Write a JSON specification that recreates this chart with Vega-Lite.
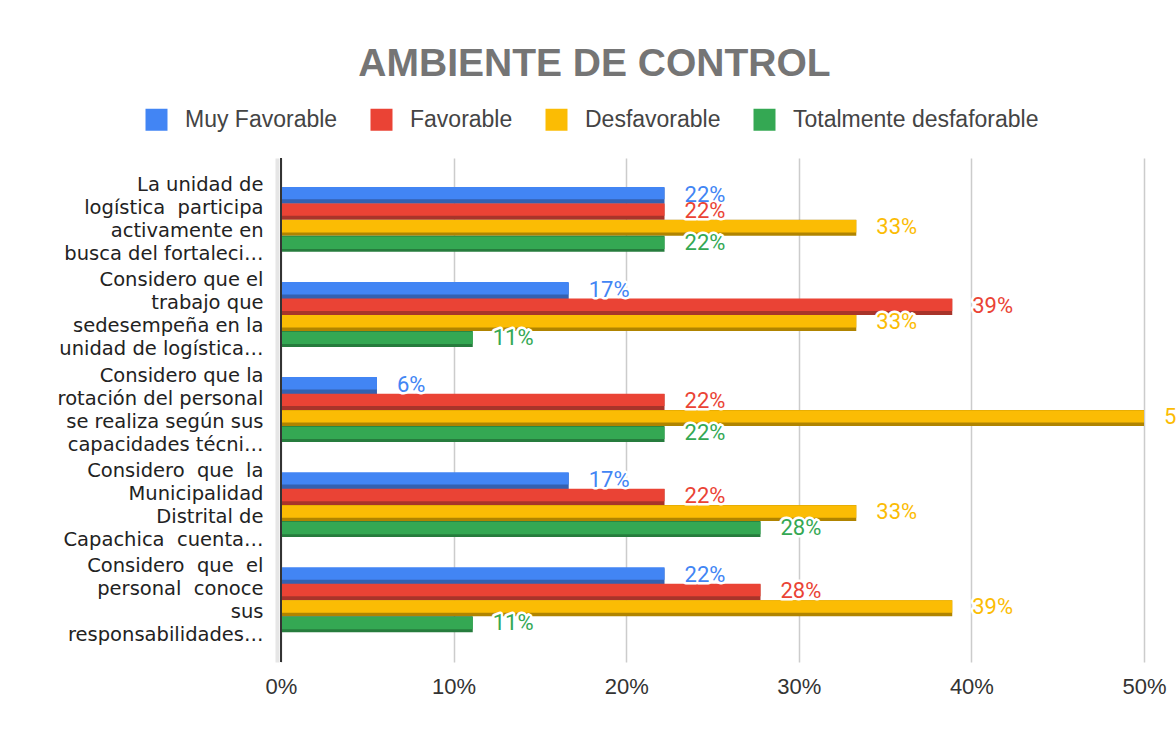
{
  "$schema": "https://vega.github.io/schema/vega-lite/v6.json",
  "width": 863,
  "height": 504,
  "autosize": "none",
  "padding": {"left": 281, "top": 158, "right": 32, "bottom": 69},
  "background": "white",
  "config": {"view": {"stroke": null}},
  "title": {
    "text": "AMBIENTE DE CONTROL",
    "font": "Liberation Sans",
    "fontSize": 39,
    "fontWeight": "bold",
    "color": "#757575",
    "anchor": "middle",
    "frame": "group",
    "dx": -118,
    "offset": 24
  },
  "data": {
    "values": [
      {"q": "La unidad de|logística\u00a0\u00a0participa|activamente en|busca del fortaleci…", "serie": "Muy Favorable", "value": 0.2222},
      {"q": "La unidad de|logística\u00a0\u00a0participa|activamente en|busca del fortaleci…", "serie": "Favorable", "value": 0.2222},
      {"q": "La unidad de|logística\u00a0\u00a0participa|activamente en|busca del fortaleci…", "serie": "Desfavorable", "value": 0.3333},
      {"q": "La unidad de|logística\u00a0\u00a0participa|activamente en|busca del fortaleci…", "serie": "Totalmente desfaforable", "value": 0.2222},
      {"q": "Considero que el|trabajo que|sedesempeña en la|unidad de logística…", "serie": "Muy Favorable", "value": 0.1667},
      {"q": "Considero que el|trabajo que|sedesempeña en la|unidad de logística…", "serie": "Favorable", "value": 0.3889},
      {"q": "Considero que el|trabajo que|sedesempeña en la|unidad de logística…", "serie": "Desfavorable", "value": 0.3333},
      {"q": "Considero que el|trabajo que|sedesempeña en la|unidad de logística…", "serie": "Totalmente desfaforable", "value": 0.1111},
      {"q": "Considero que la|rotación del personal|se realiza según sus|capacidades técni…", "serie": "Muy Favorable", "value": 0.0556},
      {"q": "Considero que la|rotación del personal|se realiza según sus|capacidades técni…", "serie": "Favorable", "value": 0.2222},
      {"q": "Considero que la|rotación del personal|se realiza según sus|capacidades técni…", "serie": "Desfavorable", "value": 0.5},
      {"q": "Considero que la|rotación del personal|se realiza según sus|capacidades técni…", "serie": "Totalmente desfaforable", "value": 0.2222},
      {"q": "Considero\u00a0\u00a0que\u00a0\u00a0la|Municipalidad|Distrital de|Capachica\u00a0\u00a0cuenta…", "serie": "Muy Favorable", "value": 0.1667},
      {"q": "Considero\u00a0\u00a0que\u00a0\u00a0la|Municipalidad|Distrital de|Capachica\u00a0\u00a0cuenta…", "serie": "Favorable", "value": 0.2222},
      {"q": "Considero\u00a0\u00a0que\u00a0\u00a0la|Municipalidad|Distrital de|Capachica\u00a0\u00a0cuenta…", "serie": "Desfavorable", "value": 0.3333},
      {"q": "Considero\u00a0\u00a0que\u00a0\u00a0la|Municipalidad|Distrital de|Capachica\u00a0\u00a0cuenta…", "serie": "Totalmente desfaforable", "value": 0.2778},
      {"q": "Considero\u00a0\u00a0que\u00a0\u00a0el|personal\u00a0\u00a0conoce|sus|responsabilidades…", "serie": "Muy Favorable", "value": 0.2222},
      {"q": "Considero\u00a0\u00a0que\u00a0\u00a0el|personal\u00a0\u00a0conoce|sus|responsabilidades…", "serie": "Favorable", "value": 0.2778},
      {"q": "Considero\u00a0\u00a0que\u00a0\u00a0el|personal\u00a0\u00a0conoce|sus|responsabilidades…", "serie": "Desfavorable", "value": 0.3889},
      {"q": "Considero\u00a0\u00a0que\u00a0\u00a0el|personal\u00a0\u00a0conoce|sus|responsabilidades…", "serie": "Totalmente desfaforable", "value": 0.1111}
    ]
  },
  "encoding": {
    "y": {
      "field": "q",
      "type": "nominal",
      "sort": null,
      "scale": {"paddingInner": 0, "paddingOuter": 0.15},
      "axis": {
        "title": null,
        "labelExpr": "split(datum.label, '|')",
        "labelFont": "DejaVu Sans",
        "labelFontSize": 19.5,
        "labelColor": "#222222",
        "labelLineHeight": 23,
        "labelAlign": "right",
        "labelBaseline": "middle",
        "labelOffset": -34.5,
        "labelLimit": 400,
        "ticks": false,
        "domainColor": "#e6e6e6",
        "domainWidth": 4,
        "offset": 4,
        "labelPadding": 14
      }
    },
    "x": {
      "field": "value",
      "type": "quantitative",
      "scale": {"domain": [0, 0.5], "nice": false},
      "axis": {
        "title": null,
        "format": ".0%",
        "values": [0, 0.1, 0.2, 0.3, 0.4, 0.5],
        "grid": true,
        "gridColor": "#cccccc",
        "gridWidth": 1.5,
        "domain": false,
        "ticks": false,
        "labelFlush": false,
        "labelOverlap": false,
        "labelFont": "Liberation Sans",
        "labelFontSize": 22,
        "labelColor": "#333333",
        "labelPadding": 14
      }
    }
  },
  "resolve": {"scale": {"yOffset": "independent"}},
  "layer": [
    {
      "mark": {"type": "bar", "height": {"band": 1}},
      "encoding": {
        "yOffset": {
          "field": "serie",
          "type": "nominal",
          "sort": ["Muy Favorable", "Favorable", "Desfavorable", "Totalmente desfaforable"],
          "scale": {"type": "band", "paddingInner": 0, "paddingOuter": 0.97}
        },
        "fill": {
          "field": "serie",
          "type": "nominal",
          "sort": ["Muy Favorable", "Favorable", "Desfavorable", "Totalmente desfaforable"],
          "scale": {"range": ["#3461b0", "#a8342a", "#b08400", "#267c3d"]},
          "legend": null
        }
      }
    },
    {
      "mark": {"type": "bar", "height": {"band": 1}},
      "encoding": {
        "yOffset": {
          "field": "serie",
          "type": "nominal",
          "sort": ["Muy Favorable", "Favorable", "Desfavorable", "Totalmente desfaforable"],
          "scale": {"type": "band", "paddingInner": 0.25, "paddingOuter": 1.095, "align": 0.443}
        },
        "color": {
          "field": "serie",
          "type": "nominal",
          "sort": ["Muy Favorable", "Favorable", "Desfavorable", "Totalmente desfaforable"],
          "scale": {"range": ["#4285f4", "#ea4335", "#fbbc04", "#34a853"]},
          "legend": {
            "orient": "none",
            "legendX": -136,
            "legendY": -50,
            "direction": "horizontal",
            "title": null,
            "symbolType": "square",
            "symbolSize": 484,
            "symbolStrokeWidth": 0,
            "labelFont": "Liberation Sans",
            "labelFontSize": 23,
            "labelColor": "#444444",
            "labelLimit": 400,
            "labelOffset": 17,
            "columnPadding": 32,
            "padding": 0
          }
        }
      }
    },
    {
      "mark": {"type": "rule", "color": "#333333", "strokeWidth": 2},
      "encoding": {"x": {"datum": 0}, "y": null}
    },
    {
      "mark": {"type": "text", "align": "left", "baseline": "middle", "dx": 20, "dy": -1, "font": "Roboto", "fontSize": 22, "fill": "white", "stroke": "white", "strokeWidth": 5, "strokeJoin": "round"},
      "encoding": {
        "yOffset": {
          "field": "serie",
          "type": "nominal",
          "sort": ["Muy Favorable", "Favorable", "Desfavorable", "Totalmente desfaforable"],
          "scale": {"type": "band", "paddingInner": 0, "paddingOuter": 0.97}
        },
        "text": {"field": "value", "type": "quantitative", "format": ".0%"}
      }
    },
    {
      "mark": {"type": "text", "align": "left", "baseline": "middle", "dx": 20, "dy": -1, "font": "Roboto", "fontSize": 22},
      "encoding": {
        "yOffset": {
          "field": "serie",
          "type": "nominal",
          "sort": ["Muy Favorable", "Favorable", "Desfavorable", "Totalmente desfaforable"],
          "scale": {"type": "band", "paddingInner": 0, "paddingOuter": 0.97}
        },
        "text": {"field": "value", "type": "quantitative", "format": ".0%"},
        "color": {
          "field": "serie",
          "type": "nominal",
          "sort": ["Muy Favorable", "Favorable", "Desfavorable", "Totalmente desfaforable"]
        }
      }
    }
  ]
}
